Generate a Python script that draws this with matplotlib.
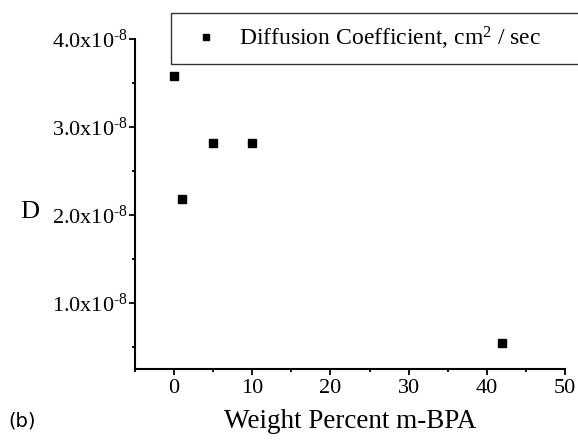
import matplotlib.pyplot as plt
from matplotlib.ticker import MultipleLocator, FixedLocator

plt.rcParams["font.family"] = ["Liberation Serif", "DejaVu Serif"]
plt.rcParams["mathtext.fontset"] = "custom"
plt.rcParams["mathtext.rm"] = "Liberation Serif"
plt.rcParams["mathtext.it"] = "Liberation Serif:italic"

# data
weight_pct = [0, 1, 5, 10, 42]
diff_coef = [3.58e-8, 2.18e-8, 2.82e-8, 2.82e-8, 0.54e-8]

y_ticks = [1.0e-8, 2.0e-8, 3.0e-8, 4.0e-8]
y_labels = [r"1.0x10$^{\text{-}8}$", r"2.0x10$^{\text{-}8}$",
            r"3.0x10$^{\text{-}8}$", r"4.0x10$^{\text{-}8}$"]
x_ticks = [0, 10, 20, 30, 40, 50]

fig = plt.figure(figsize=(5.78, 4.48), dpi=100)
ax = fig.add_axes([135 / 578, 1 - 369 / 448, 430 / 578, 330 / 448])

ax.plot(weight_pct, diff_coef, "s", color="black", markersize=5.5,
        label="Diffusion Coefficient, cm$^{2}$ / sec")

ax.set_xlim(-5, 50)
ax.set_ylim(0.25e-8, 4.0e-8)

ax.set_xticks(x_ticks)
ax.xaxis.set_minor_locator(MultipleLocator(5))
ax.set_yticks(y_ticks)
ax.set_yticklabels(y_labels)
ax.yaxis.set_minor_locator(FixedLocator([0.5e-8, 1.5e-8, 2.5e-8, 3.5e-8]))

for s in ["top", "right"]:
    ax.spines[s].set_visible(False)
for s in ["left", "bottom"]:
    ax.spines[s].set_linewidth(1.5)

ax.tick_params(which="major", direction="out", length=4, width=1.3,
               labelsize=16, pad=1)
ax.tick_params(which="minor", direction="out", length=2.5, width=1.3)
ax.tick_params(axis="x", pad=3)

ax.set_xlabel("Weight Percent m-BPA", fontsize=19.5, labelpad=8)
fig.text(20 / 578, 1 - 212 / 448, "D", fontsize=19, va="center", ha="left")
fig.text(8 / 578, 1 - 421 / 448, "(b)", fontsize=14, va="center", ha="left",
         family="DejaVu Sans")

leg = ax.legend(loc="upper left", bbox_to_anchor=(171 / 578, 1 - 13 / 448, 440 / 578, 0),
                bbox_transform=fig.transFigure, mode="expand", fontsize=17,
                frameon=True, fancybox=False, borderpad=0.5, handletextpad=0.4,
                markerscale=0.8, borderaxespad=0)
leg.get_frame().set_edgecolor("black")
leg.get_frame().set_linewidth(1.0)

plt.savefig("out.png", dpi=100)
